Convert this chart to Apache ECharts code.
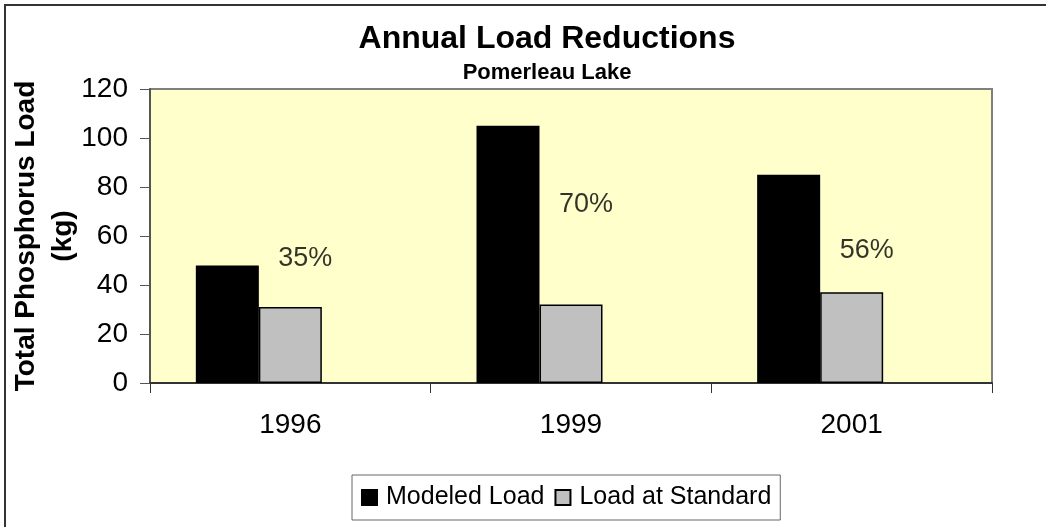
<!DOCTYPE html>
<html>
<head>
<meta charset="utf-8">
<script src="https://cdn.jsdelivr.net/npm/echarts@6/dist/echarts.min.js"></script>
<style>
  html, body { margin: 0; padding: 0; background: #fff; }
  #chart { width: 1046px; height: 527px; }
</style>
</head>
<body>
<div id="chart"></div>
<script>
// data
const years = ['1996', '1999', '2001'];
const modeledLoad = [48, 105, 85];
const loadAtStandard = [31, 32, 37];
const reductionText = ['35%', '70%', '56%'];
const reductionLabelY = [51, 73, 54];   // height (kg) where the % text sits
const yTicks = { min: 0, max: 120, step: 20 };

const font = 'Liberation Sans, Arial, sans-serif';

let myChart = echarts.init(document.getElementById('chart'));

let option = {
  animation: false,
  textStyle: { fontFamily: font },
  graphic: [
    {
      type: 'rect',
      shape: { x: 5, y: 5, width: 1100, height: 600 },
      style: { fill: 'none', stroke: '#333', lineWidth: 2 },
      silent: true
    }
  ],
  title: [
    {
      text: 'Annual Load Reductions',
      left: 542, top: 18, textAlign: 'center',
      textStyle: { fontSize: 32, fontWeight: 'bold', color: '#000', fontFamily: font }
    },
    {
      text: 'Pomerleau Lake',
      left: 542, top: 57, textAlign: 'center',
      textStyle: { fontSize: 22, fontWeight: 'bold', color: '#000', fontFamily: font }
    }
  ],
  legend: {
    data: ['Modeled Load', 'Load at Standard'],
    left: 352, top: 475,
    padding: [10, 9, 10, 9],
    itemWidth: 15, itemHeight: 15, itemGap: 10,
    icon: 'rect',
    borderColor: '#666', borderWidth: 1,
    textStyle: { fontSize: 25, color: '#000', fontFamily: font, padding: [0, 0, 0, 4] }
  },
  grid: {
    left: 150, right: 54, top: 89, bottom: 144,
    outerBoundsMode: 'none',
    containLabel: false,
    show: true,
    backgroundColor: '#FFFFCC',
    borderColor: '#808080', borderWidth: 2
  },
  xAxis: {
    type: 'category',
    data: years,
    axisLine: { show: true, lineStyle: { color: '#333', width: 2 } },
    axisTick: { show: true, length: 10, lineStyle: { color: '#333', width: 1 } },
    axisLabel: { margin: 28, fontSize: 28, color: '#000', fontFamily: font },
    splitLine: { show: false }
  },
  yAxis: {
    type: 'value',
    min: yTicks.min, max: yTicks.max, interval: yTicks.step,
    name: 'Total Phosphorus Load\n(kg)',
    nameLocation: 'middle',
    nameRotate: 90,
    nameGap: 68,
    nameMoveOverlap: false,
    nameTextStyle: { fontSize: 28, fontWeight: 'bold', color: '#000', lineHeight: 37, fontFamily: font },
    axisLine: { show: true, lineStyle: { color: '#555', width: 2 } },
    axisTick: { show: true, length: 10, lineStyle: { color: '#555', width: 1 } },
    axisLabel: { margin: 22, fontSize: 28, color: '#000', fontFamily: font },
    splitLine: { show: false }
  },
  series: [
    {
      name: 'Modeled Load',
      type: 'bar',
      data: modeledLoad,
      barWidth: 63,
      barGap: '0%',
      itemStyle: { color: '#000', borderColor: '#000', borderWidth: 1.5 }
    },
    {
      name: 'Load at Standard',
      type: 'bar',
      data: loadAtStandard,
      barWidth: 63,
      barGap: '0%',
      itemStyle: { color: '#C0C0C0', borderColor: '#000', borderWidth: 1.5 }
    },
    {
      // empty third slot, keeps the two real bars left of centre
      name: 'spacer',
      type: 'bar',
      data: years.map(() => '-'),
      barWidth: 63,
      barGap: '0%',
      silent: true
    },
    {
      name: 'reduction',
      type: 'scatter',
      data: reductionLabelY,
      symbolSize: 0,
      silent: true,
      label: {
        show: true,
        position: 'inside',
        offset: [15, 0],
        fontSize: 27,
        color: '#000',
        fontFamily: font,
        formatter: p => reductionText[p.dataIndex]
      }
    }
  ]
};

myChart.setOption(option);
</script>
</body>
</html>
